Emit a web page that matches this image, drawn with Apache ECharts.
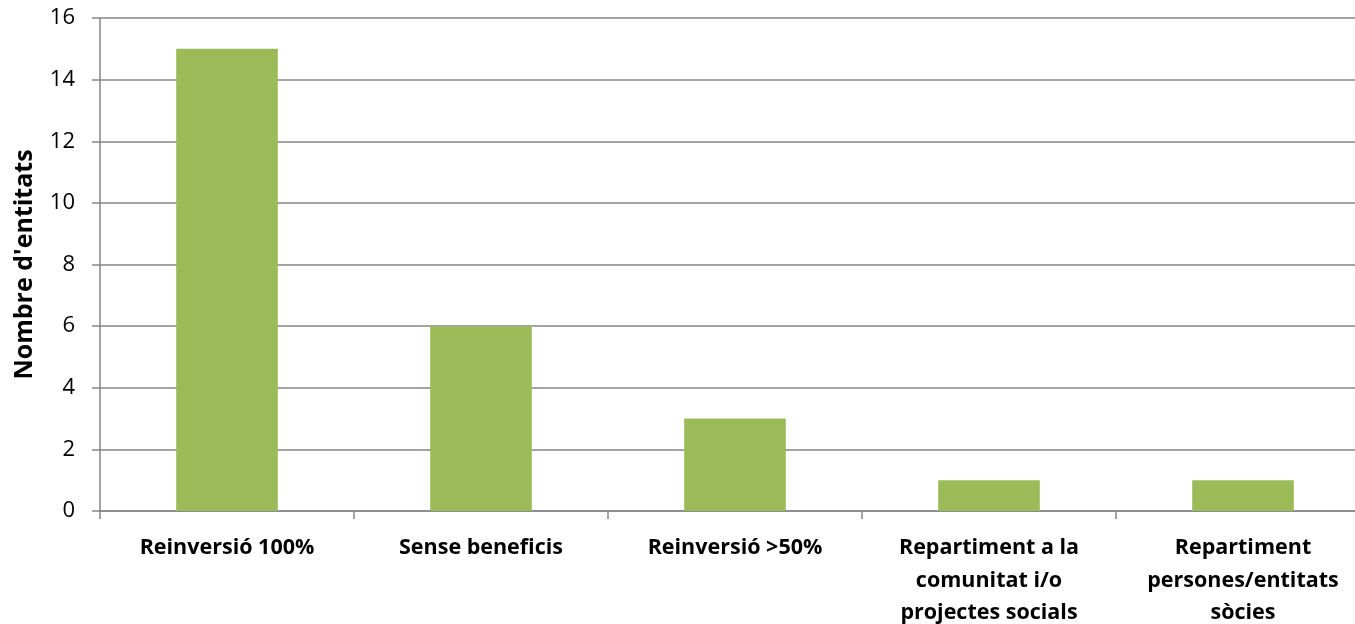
<!DOCTYPE html>
<html><head><meta charset="utf-8">
<script src="https://cdn.jsdelivr.net/npm/echarts@6/dist/echarts.min.js"></script>
<style>html,body{margin:0;padding:0;background:#fff}#c{width:1355px;height:624px}</style>
</head><body><div id="c"></div>
<script>
const categories = ['Reinversió 100%', 'Sense beneficis', 'Reinversió >50%', 'Repartiment a la\ncomunitat i/o\nprojectes socials', 'Repartiment\npersones/entitats\nsòcies'];
const values = [15, 6, 3, 1, 1];
const yTicks = [0, 2, 4, 6, 8, 10, 12, 14, 16];
const yTitle = "Nombre d'entitats";
const chart = echarts.init(document.getElementById('c'));
chart.setOption({
  animation: false,
  grid: {left: 100, width: 1270, top: 18, bottom: 113, containLabel: false, outerBoundsMode: 'none'},
  xAxis: {
    type: 'category', data: categories,
    axisLine: {lineStyle: {color: '#868686', width: 1.5}},
    axisTick: {show: true, length: 8, lineStyle: {color: '#868686', width: 1.5}},
    axisLabel: {color: '#000', fontFamily: 'Open Sans', fontWeight: 'bold', fontSize: 21.5, lineHeight: 32.5, margin: 21, interval: 0}
  },
  yAxis: {
    type: 'value', min: yTicks[0], max: yTicks[yTicks.length-1], interval: 2,
    name: yTitle, nameLocation: 'middle', nameGap: 63, nameRotate: 90,
    nameTextStyle: {color: '#000', fontFamily: 'Open Sans', fontWeight: 'bold', fontSize: 25},
    axisLine: {show: true, lineStyle: {color: '#868686', width: 1.5}},
    axisTick: {show: true, length: 8, lineStyle: {color: '#868686', width: 1.5}},
    axisLabel: {color: '#000', fontFamily: 'Open Sans', fontSize: 22, margin: 25},
    splitLine: {lineStyle: {color: '#868686', width: 1.5}}
  },
  series: [{type: 'bar', data: values, barWidth: '40%', itemStyle: {color: '#9BBB59'}}]
});
</script></body></html>
